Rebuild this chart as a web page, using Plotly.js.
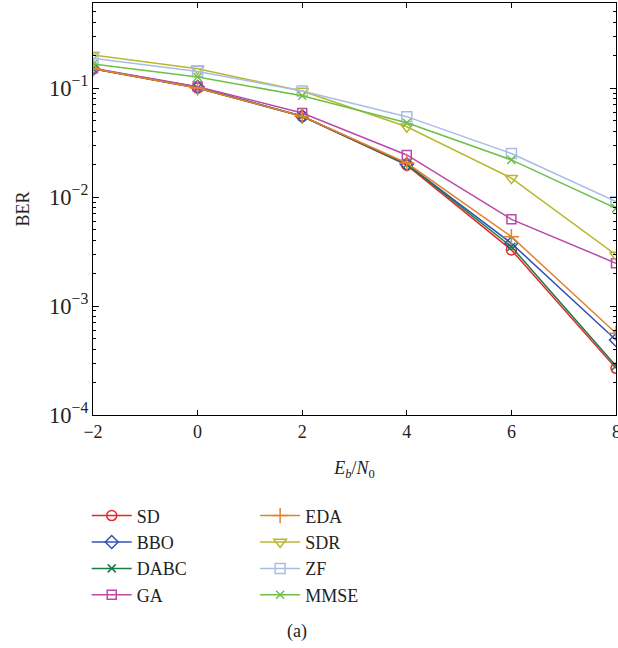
<!DOCTYPE html>
<html>
<head>
<meta charset="utf-8">
<script src="https://cdn.plot.ly/plotly-3.0.1.min.js"></script>
<style>html,body{margin:0;padding:0;background:#fff;}#chart{width:618px;height:648px;}</style>
</head>
<body>
<div id="chart"></div>
<script>
const snr = [-2, 0, 2, 4, 6, 8];
const SD   = [0.150, 0.100, 0.055, 0.0196, 0.00327, 0.000268];
const BBO  = [0.150, 0.102, 0.055, 0.0200, 0.00376, 0.000488];
const DABC = [0.150, 0.100, 0.055, 0.0200, 0.00350, 0.000282];
const GA   = [0.152, 0.103, 0.059, 0.0243, 0.00624, 0.00247];
const EDA  = [0.150, 0.100, 0.055, 0.0205, 0.00433, 0.000562];
const SDR  = [0.201, 0.150, 0.094, 0.0441, 0.0149, 0.00294];
const ZF   = [0.188, 0.142, 0.094, 0.0546, 0.0251, 0.00906];
const MMSE = [0.166, 0.126, 0.085, 0.0480, 0.0219, 0.00787];

const seriesNames = ['SD','BBO','DABC','GA','EDA','SDR','ZF','MMSE'];
const seriesData = [SD, BBO, DABC, GA, EDA, SDR, ZF, MMSE];
const colors = ['#e8262a','#2f52b3','#1d7a48','#b94aa8','#e0832f','#b8b82c','#a8bde6','#6cc04a'];
const symbols = ['circle-open','diamond-open','x-thin-open','square-open','cross-thin-open','triangle-down-open','square-open','x-thin-open'];
const sizes = [10, 10, 8, 9, 11, 11, 10, 8];

const traces = seriesNames.map((n, i) => ({
  x: snr, y: seriesData[i], name: n, type: 'scatter', mode: 'lines+markers',
  line: {color: colors[i], width: 1.5},
  marker: {symbol: symbols[i], size: sizes[i], color: colors[i], line: {color: colors[i], width: 1.5}},
  legend: i < 4 ? 'legend' : 'legend2',
  legendgroup: 'g' + i
}));

const F = () => ({family: 'Liberation Serif, Times New Roman, serif', size: 18, color: '#222'});

const layout = {
  width: 618, height: 648,
  margin: {l: 93, r: 2, t: 3, b: 233},
  paper_bgcolor: '#fff', plot_bgcolor: '#fff',
  font: F(),
  showlegend: true,
  xaxis: {
    range: [-2, 8], dtick: 2, tick0: 0,
    showgrid: false, zeroline: false,
    showline: true, linecolor: '#000', linewidth: 1.2, mirror: 'allticks',
    ticks: 'inside', ticklen: 5, tickcolor: '#000',
    tickfont: F(),
    title: {text: '<i>E</i><sub><i>b</i></sub>/<i>N</i><sub>0</sub>', font: F(), standoff: 20}
  },
  yaxis: {
    type: 'log', range: [-4, -0.22], dtick: 1,
    exponentformat: 'power',
    showgrid: false, zeroline: false,
    showline: true, linecolor: '#000', linewidth: 1.2, mirror: 'allticks',
    ticks: 'inside', ticklen: 6, tickcolor: '#000',
    minor: {ticks: 'inside', ticklen: 3, tickcolor: '#000', dtick: 'D1', showgrid: false},
    tickfont: F(),
    title: {text: 'BER', font: F(), standoff: 14}
  },
  legend: {
    x: -0.012, y: -0.2, xanchor: 'left', yanchor: 'top',
    bgcolor: 'rgba(0,0,0,0)', font: F(), tracegroupgap: 0, itemwidth: 40
  },
  legend2: {
    x: 0.31, y: -0.2, xanchor: 'left', yanchor: 'top',
    bgcolor: 'rgba(0,0,0,0)', font: F(), tracegroupgap: 0, itemwidth: 40
  },
  annotations: [
    {
      text: '8', xref: 'x', yref: 'paper', x: 8, y: -0.012,
      xanchor: 'center', yanchor: 'top', showarrow: false, font: F()
    },
    {
      text: '(a)', xref: 'paper', yref: 'paper', x: 0.39, y: -0.525,
      xanchor: 'center', yanchor: 'middle', showarrow: false, font: F()
    }
  ]
};

Plotly.newPlot('chart', traces, layout, {displayModeBar: false});
</script>
</body>
</html>
